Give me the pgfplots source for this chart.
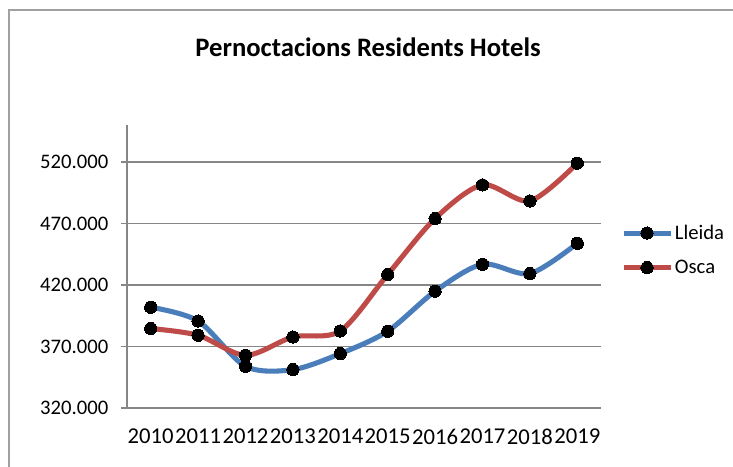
\documentclass[border=0pt]{standalone}
\usepackage{pgfplots}
\pgfplotsset{compat=1.18}
\usepackage{fontspec}
\setmainfont{Carlito}
\definecolor{lblue}{HTML}{4A7EBB}
\definecolor{ored}{HTML}{BE4B48}
\definecolor{gridc}{HTML}{868686}
\definecolor{framec}{HTML}{A0A0A0}
\begin{document}
\begin{tikzpicture}[x=0.75pt,y=0.75pt]
\useasboundingbox (0,0) rectangle (733,467);
\fill[white] (0,0) rectangle (733,467);
\draw[framec, line width=1.5pt] (9,-5) -- (9,457) -- (740,457);
\node[font=\fontsize{20}{24}\selectfont\bfseries] at (368,420) {Pernoctacions Residents Hotels};
\begin{axis}[
  at={(95.25pt,44.25pt)}, anchor=south west,
  scale only axis, width=355.5pt, height=212.25pt,
  xmin=0, xmax=10, ymin=320000, ymax=550000,
  axis lines=left, axis line style={gridc, line width=0.9pt, -},
  xtick={0.5,1.5,...,9.5},
  xticklabels={2010,2011,2012,2013,2014,2015,2016,2017,2018,2019},
  minor xtick={0,1,...,10},
  ytick={320000,370000,420000,470000,520000},
  yticklabels={320.000,370.000,420.000,470.000,520.000},
  scaled y ticks=false,
  ymajorgrids, grid style={gridc, line width=0.9pt},
  tick align=outside,
  x tick style={draw=none},
  minor x tick style={gridc, line width=0.9pt},
  y tick style={gridc, line width=0.9pt},
  major tick length=4.5pt, minor tick length=4.5pt,
  tick label style={font=\fontsize{15.5}{18}\selectfont, text=black},
  xticklabel style={font=\fontsize{17}{20}\selectfont, yshift=-7.5pt, inner xsep=0pt},
  yticklabel style={xshift=-6pt},
  legend style={at={(1.042,0.558)}, anchor=west, draw=none, fill=none,
    font=\fontsize{15.5}{18}\selectfont, row sep=10pt, inner sep=0pt,
    nodes={inner xsep=1.5pt}},
  legend cell align=left,
  legend image code/.code={\draw[mark repeat=2,mark phase=2,#1] plot coordinates {(0pt,0pt) (17.5pt,0pt) (35pt,0pt)};},
  clip=false,
]
\addplot[lblue, line width=3.8pt, smooth, tension=0.5, mark=*, mark size=4.6pt, mark options={fill=black, draw=black, line width=0pt}]
coordinates {(0.5,401900) (1.5,390700) (2.5,353900) (3.5,351200) (4.5,364200) (5.5,382400) (6.5,414900) (7.5,436800) (8.5,429300) (9.5,453900)};
\addlegendentry{Lleida}
\addplot[ored, line width=3.8pt, smooth, tension=0.5, mark=*, mark size=4.6pt, mark options={fill=black, draw=black, line width=0pt}]
coordinates {(0.5,384600) (1.5,379100) (2.5,362800) (3.5,377700) (4.5,382600) (5.5,428500) (6.5,474000) (7.5,501300) (8.5,488300) (9.5,519000)};
\addlegendentry{Osca}
\end{axis}
\end{tikzpicture}
\end{document}
